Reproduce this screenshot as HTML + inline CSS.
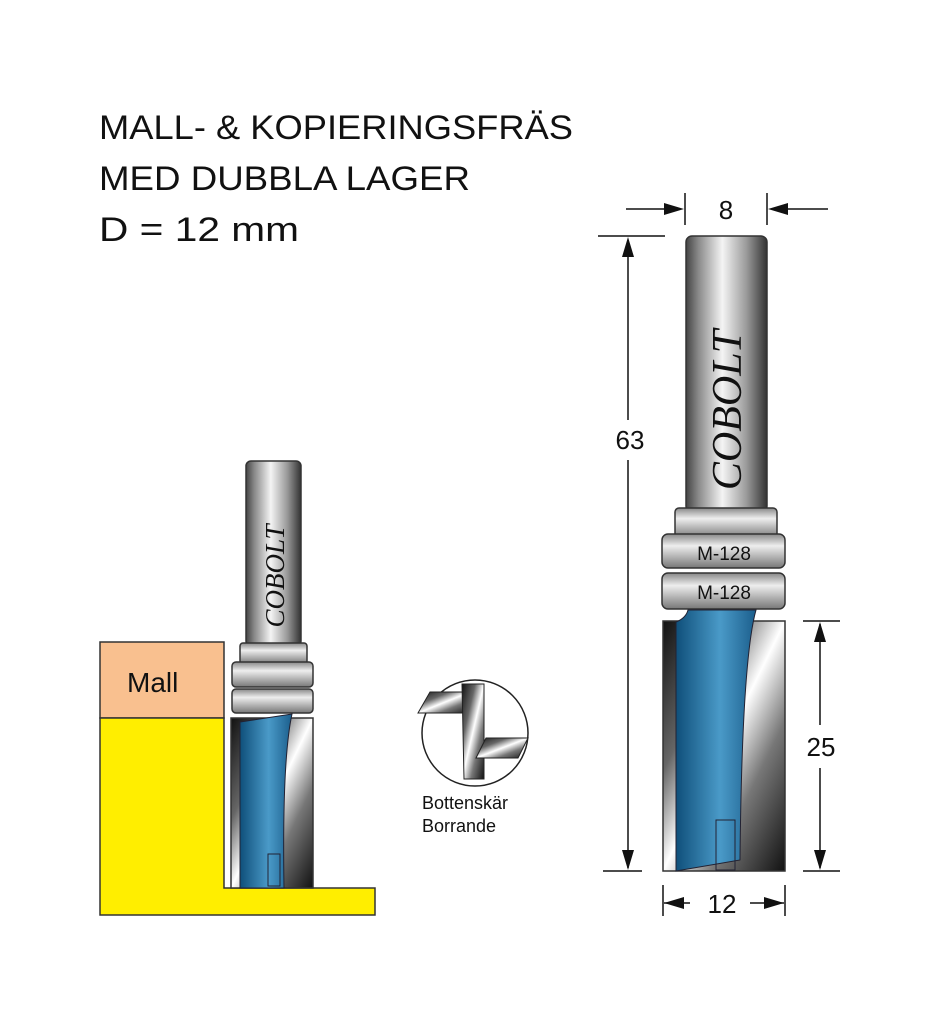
<!DOCTYPE html>
<html><head><meta charset="utf-8"><style>
html,body{margin:0;padding:0;background:#fff;width:943px;height:1024px;overflow:hidden}
</style></head><body>
<svg width="943" height="1024" viewBox="0 0 943 1024" xmlns="http://www.w3.org/2000/svg">
<defs>
<linearGradient id="m" x1="0" x2="1" y1="0" y2="0">
<stop offset="0" stop-color="#444"/><stop offset="0.15" stop-color="#888"/><stop offset="0.45" stop-color="#f4f4f4"/><stop offset="0.75" stop-color="#999"/><stop offset="1" stop-color="#333"/>
</linearGradient>
<linearGradient id="c" x1="0" x2="0" y1="0" y2="1">
<stop offset="0" stop-color="#888"/><stop offset="0.35" stop-color="#eee"/><stop offset="1" stop-color="#777"/>
</linearGradient>
<linearGradient id="b" x1="0" x2="1" y1="0" y2="0">
<stop offset="0" stop-color="#0f4f7a"/><stop offset="0.55" stop-color="#4a9ac8"/><stop offset="1" stop-color="#1b5e8c"/>
</linearGradient>
<linearGradient id="f" x1="0" x2="1" y1="0" y2="1">
<stop offset="0" stop-color="#111"/><stop offset="0.3" stop-color="#666"/><stop offset="0.5" stop-color="#fff"/><stop offset="0.7" stop-color="#777"/><stop offset="1" stop-color="#111"/>
</linearGradient>
</defs>
<g font-family="Liberation Sans, sans-serif" font-size="34" fill="#111">
<text x="99" y="139" textLength="474" lengthAdjust="spacingAndGlyphs">MALL- &amp; KOPIERINGSFRÄS</text>
<text x="99" y="190" textLength="371" lengthAdjust="spacingAndGlyphs">MED DUBBLA LAGER</text>
<text x="99" y="241" textLength="200" lengthAdjust="spacingAndGlyphs">D = 12 mm</text>
</g>
<!-- left workpiece -->
<rect x="100" y="642" width="124" height="76" fill="#f9c08f" stroke="#333" stroke-width="1.5"/>
<text x="127" y="692" font-family="Liberation Sans, sans-serif" font-size="28" fill="#111">Mall</text>
<path d="M100 718 H224 V888 H375 V915 H100 Z" fill="#ffee00" stroke="#333" stroke-width="1.5"/>
<!-- left tool -->
<rect x="246" y="461" width="55" height="185" rx="5" fill="url(#m)" stroke="#333" stroke-width="1.5"/>
<text transform="translate(284,576) rotate(-90)" text-anchor="middle" font-family="Liberation Serif, serif" font-style="italic" font-size="27" fill="#111">COBOLT</text>
<rect x="240" y="643" width="67" height="21" rx="3" fill="url(#c)" stroke="#333" stroke-width="1.5"/>
<rect x="232" y="662" width="81" height="25" rx="4" fill="url(#c)" stroke="#333" stroke-width="1.5"/>
<rect x="232" y="689" width="81" height="24" rx="4" fill="url(#c)" stroke="#333" stroke-width="1.5"/>
<rect x="231" y="718" width="82" height="170" fill="url(#f)" stroke="#333" stroke-width="1.5"/>
<path d="M240 722 L292 714 Q282 760 284 888 L240 888 Z" fill="url(#b)" stroke="#223" stroke-width="1"/>
<rect x="268" y="854" width="12" height="32" fill="none" stroke="#223" stroke-width="1"/>
<!-- circle icon -->
<circle cx="475" cy="733" r="53" fill="#fff" stroke="#222" stroke-width="1.5"/>
<path d="M418 713 L430 692 L470 692 L462 713 Z" fill="url(#f)" stroke="#222"/>
<path d="M462 684 L484 684 L484 779 L464 779 Z" fill="url(#f)" stroke="#222"/>
<path d="M476 758 L486 738 L528 738 L518 758 Z" fill="url(#f)" stroke="#222"/>
<text x="422" y="809" font-family="Liberation Sans, sans-serif" font-size="18" fill="#111">Bottenskär</text>
<text x="422" y="832" font-family="Liberation Sans, sans-serif" font-size="18" fill="#111">Borrande</text>
<!-- right tool -->
<rect x="686" y="236" width="81" height="276" rx="6" fill="url(#m)" stroke="#333" stroke-width="1.5"/>
<text transform="translate(741,410) rotate(-90)" text-anchor="middle" font-family="Liberation Serif, serif" font-style="italic" font-size="42" fill="#111">COBOLT</text>
<rect x="675" y="508" width="102" height="30" rx="4" fill="url(#c)" stroke="#333" stroke-width="1.5"/>
<rect x="662" y="534" width="123" height="34" rx="6" fill="url(#c)" stroke="#333" stroke-width="1.5"/>
<rect x="662" y="573" width="123" height="36" rx="6" fill="url(#c)" stroke="#333" stroke-width="1.5"/>
<text x="724" y="560" text-anchor="middle" font-family="Liberation Sans, sans-serif" font-size="19" fill="#111">M-128</text>
<text x="724" y="599" text-anchor="middle" font-family="Liberation Sans, sans-serif" font-size="19" fill="#111">M-128</text>
<rect x="663" y="621" width="122" height="250" fill="url(#f)" stroke="#333" stroke-width="1.5"/>
<path d="M676 622 Q686 618 688 610 L756 610 Q742 660 740 860 L676 871 Z" fill="url(#b)" stroke="#223" stroke-width="1"/>
<rect x="716" y="820" width="19" height="50" fill="none" stroke="#223" stroke-width="1"/>
<!-- dimensions -->
<g stroke="#111" stroke-width="1.5" fill="#111">
<line x1="598" y1="236" x2="665" y2="236"/>
<line x1="603" y1="871" x2="642" y2="871"/>
<line x1="628" y1="240" x2="628" y2="420"/>
<line x1="628" y1="460" x2="628" y2="868"/>
<path d="M628 237 l-6 20 h12 Z M628 870 l-6 -20 h12 Z" stroke="none"/>
<line x1="685" y1="193" x2="685" y2="225"/>
<line x1="767" y1="193" x2="767" y2="225"/>
<line x1="626" y1="209" x2="670" y2="209"/>
<line x1="782" y1="209" x2="828" y2="209"/>
<path d="M684 209 l-20 -6 v12 Z M768 209 l20 -6 v12 Z" stroke="none"/>
<line x1="803" y1="621" x2="840" y2="621"/>
<line x1="803" y1="871" x2="840" y2="871"/>
<line x1="820" y1="624" x2="820" y2="725"/>
<line x1="820" y1="768" x2="820" y2="868"/>
<path d="M820 622 l-6 20 h12 Z M820 870 l-6 -20 h12 Z" stroke="none"/>
<line x1="663" y1="885" x2="663" y2="916"/>
<line x1="785" y1="885" x2="785" y2="916"/>
<line x1="664" y1="903" x2="690" y2="903"/>
<line x1="750" y1="903" x2="784" y2="903"/>
<path d="M664 903 l20 -6 v12 Z M784 903 l-20 -6 v12 Z" stroke="none"/>
</g>
<g font-family="Liberation Sans, sans-serif" font-size="26" fill="#111" text-anchor="middle">
<text x="726" y="219">8</text>
<text x="630" y="449">63</text>
<text x="821" y="756">25</text>
<text x="722" y="913">12</text>
</g>
</svg>
</body></html>
